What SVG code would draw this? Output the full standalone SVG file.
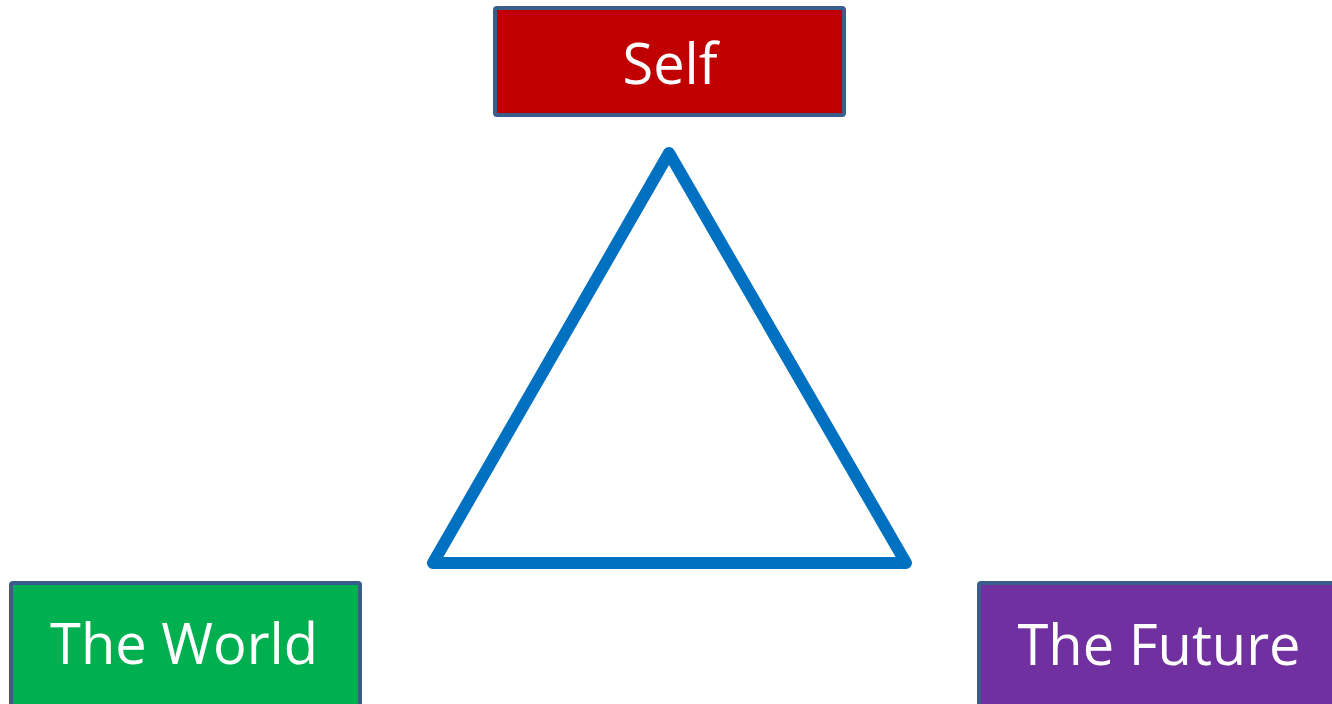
<svg xmlns="http://www.w3.org/2000/svg" width="1332" height="704" viewBox="0 0 1332 704">
<style>
.box{stroke:#3A5E8C;stroke-width:4}
.lbl{font-family:"Open Sans","Liberation Sans",sans-serif;font-size:56px;fill:#FFFFFF;text-anchor:middle}
.tri{fill:none;stroke:#0070C0;stroke-width:12;stroke-linejoin:round}
</style>
<rect width="1332" height="704" fill="#FFFFFF"/>
<g id="connectors">
<polygon class="tri" points="669,153 433,563 906,563"/>
</g>
<g id="self">
<rect class="box" x="495" y="8" width="349" height="107" rx="2" fill="#C00000"/>
<text class="lbl" x="670" y="84">Self</text>
</g>
<g id="world">
<rect class="box" x="11" y="583" width="349" height="130" rx="2" fill="#00B050"/>
<text class="lbl" x="184" y="664">The World</text>
</g>
<g id="future">
<rect class="box" x="979" y="583" width="362" height="130" rx="2" fill="#7030A0"/>
<text class="lbl" x="1159" y="665">The Future</text>
</g>
</svg>
